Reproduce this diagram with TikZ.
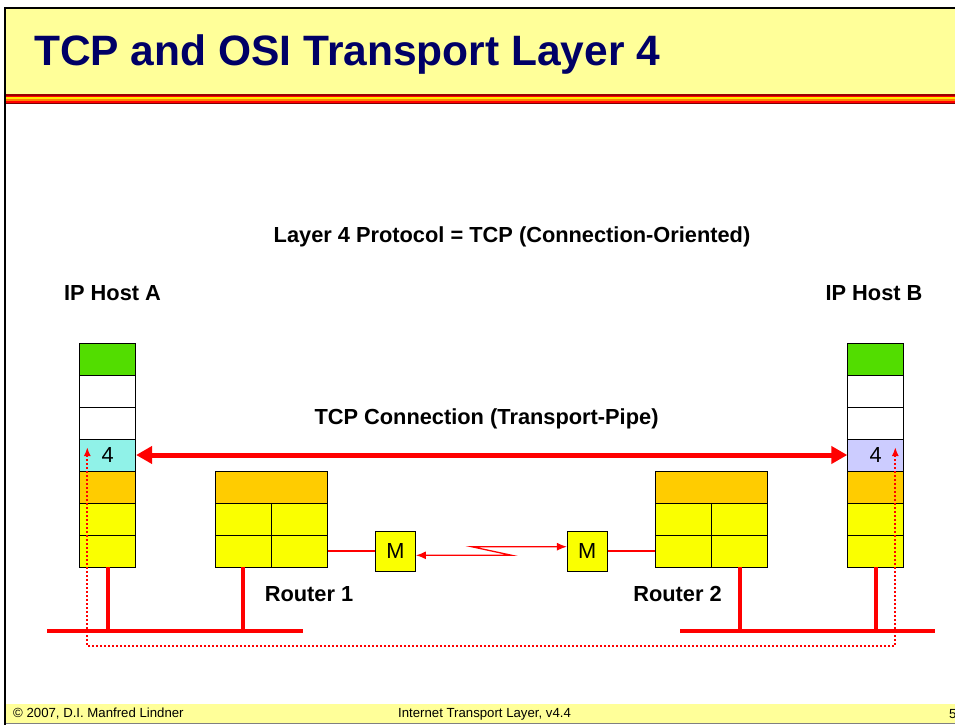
\documentclass[tikz,border=0pt]{standalone}
\usepackage{fontspec}
\setmainfont{Liberation Sans}
\usetikzlibrary{arrows.meta}

\definecolor{bandyellow}{RGB}{255,255,153}
\definecolor{titleblue}{RGB}{0,0,102}
\definecolor{appgreen}{RGB}{82,221,0}
\definecolor{tcpcyan}{RGB}{144,242,232}
\definecolor{tcplilac}{RGB}{204,204,255}
\definecolor{netorange}{RGB}{255,204,0}
\definecolor{linkyellow}{RGB}{250,255,0}

\begin{document}
\begin{tikzpicture}[x=1pt, y=-1pt,
    cell/.style={draw, line width=0.8pt, inner sep=0pt, minimum width=56pt, minimum height=32pt},
    wide/.style={cell, minimum width=112pt},
    modem/.style={draw, line width=0.8pt, fill=linkyellow, inner sep=0pt, minimum size=40pt, font=\fontsize{21.8}{26}\selectfont},
    lbl/.style={inner sep=0pt, anchor=base, font=\fontsize{21.8}{26}\selectfont\bfseries},
    wire/.style={red, line width=4pt},
    foot/.style={inner sep=0pt, anchor=base west, font=\fontsize{13.2}{15}\selectfont}]
    \useasboundingbox (0, 0) rectangle (955, 725);

    % title and footer bands
    \fill[bandyellow] (6, 9) rectangle (955, 94);
    \fill[black] (5, 7) rectangle (955, 9.5);
    \fill[red!60!black] (6, 94) rectangle (955, 95.5);
    \fill[red] (6, 95.5) rectangle (955, 97);
    \fill[yellow!90!orange] (6, 97) rectangle (955, 99);
    \fill[orange] (6, 99) rectangle (955, 101);
    \fill[red] (6, 101) rectangle (955, 102.5);
    \fill[red!50!black] (6, 102.5) rectangle (955, 104);
    \fill[bandyellow] (6, 704) rectangle (955, 723);
    \draw[gray, line width=1pt] (6, 723.5) -- (955, 723.5);
    \fill[black] (3.5, 7) rectangle (6, 725);

    \node[inner sep=0pt, anchor=base west, text=titleblue,
          font=\fontsize{42.5}{50}\selectfont\bfseries] (title) at (34, 66) {TCP and OSI Transport Layer 4};
    \node[foot] (copy) at (13, 717) {© 2007, D.I. Manfred Lindner};
    \node[foot] (course) at (398, 717) {Internet Transport Layer, v4.4};
    \node[foot] (page) at (949, 718) {5};

    % labels
    \node[lbl] (proto) at (512, 242.7) {Layer 4 Protocol = TCP (Connection-Oriented)};
    \node[lbl] (hosta) at (112.5, 300.7) {IP Host A};
    \node[lbl] (hostb) at (874, 300.7) {IP Host B};
    \node[lbl] (pipe) at (486.5, 424.5) {TCP Connection (Transport-Pipe)};
    \node[lbl] (rone) at (309, 601.7) {Router 1};
    \node[lbl] (rtwo) at (677.5, 601.7) {Router 2};

    % host A stack
    \node[cell, fill=appgreen] (a1) at (107.7, 359) {};
    \node[cell, fill=white] (a2) at (107.7, 391) {};
    \node[cell, fill=white] (a3) at (107.7, 423) {};
    \node[cell, fill=tcpcyan, font=\fontsize{21.8}{26}\selectfont] (a4) at (107.7, 455) {4};
    \node[cell, fill=netorange] (a5) at (107.7, 487) {};
    \node[cell, fill=linkyellow] (a6) at (107.7, 519) {};
    \node[cell, fill=linkyellow] (a7) at (107.7, 551) {};

    % host B stack
    \node[cell, fill=appgreen] (b1) at (875.7, 359) {};
    \node[cell, fill=white] (b2) at (875.7, 391) {};
    \node[cell, fill=white] (b3) at (875.7, 423) {};
    \node[cell, fill=tcplilac, font=\fontsize{21.8}{26}\selectfont] (b4) at (875.7, 455) {4};
    \node[cell, fill=netorange] (b5) at (875.7, 487) {};
    \node[cell, fill=linkyellow] (b6) at (875.7, 519) {};
    \node[cell, fill=linkyellow] (b7) at (875.7, 551) {};

    % router 1
    \node[wide, fill=netorange] (r1n) at (271.3, 487) {};
    \node[cell, fill=linkyellow] (r1a) at (243.3, 519) {};
    \node[cell, fill=linkyellow] (r1b) at (299.3, 519) {};
    \node[cell, fill=linkyellow] (r1c) at (243.3, 551) {};
    \node[cell, fill=linkyellow] (r1d) at (299.3, 551) {};

    % router 2
    \node[wide, fill=netorange] (r2n) at (711.7, 487) {};
    \node[cell, fill=linkyellow] (r2a) at (683.7, 519) {};
    \node[cell, fill=linkyellow] (r2b) at (739.7, 519) {};
    \node[cell, fill=linkyellow] (r2c) at (683.7, 551) {};
    \node[cell, fill=linkyellow] (r2d) at (739.7, 551) {};

    \node[modem] (m1) at (395.5, 551) {M};
    \node[modem] (m2) at (587.3, 551) {M};

    % LANs
    \coordinate (lanal) at (47, 631);
    \coordinate (lanar) at (303, 631);
    \coordinate (lanbl) at (680, 631);
    \coordinate (lanbr) at (935, 631);
    \draw[wire] (lanal) -- (lanar);
    \draw[wire] (lanbl) -- (lanbr);
    \draw[wire] (a7.south) -- (a7.south |- lanal);
    \draw[wire] (r1c.south) -- (r1c.south |- lanal);
    \draw[wire] (r2d.south) -- (r2d.south |- lanbl);
    \draw[wire] (b7.south) -- (b7.south |- lanbl);

    % WAN link
    \draw[red, line width=1.3pt] (r1d.east) -- (m1.west);
    \draw[red, line width=1.3pt] (m2.east) -- (r2c.west);
    \coordinate (zlo) at (511.7, 555.3);
    \coordinate (zhi) at (471.7, 546.7);
    \draw[red, line width=1.3pt, {Latex[length=10pt,width=8pt]}-{Latex[length=10pt,width=8pt]}]
        (m1.east |- zlo) -- (zlo) -- (zhi) -- (m2.west |- zhi);

    % transport pipe
    \draw[red, line width=5pt, {Triangle[length=16pt,width=17pt]}-{Triangle[length=16pt,width=17pt]}]
        (a4.east) -- (b4.west);

    % end to end path
    \coordinate (pa) at (87.3, 447);
    \coordinate (pb) at (895.3, 447);
    \coordinate (pbot) at (0, 646);
    \draw[red, line width=2pt, dash pattern=on 2pt off 2pt, {Latex[length=9pt,width=7pt]}-{Latex[length=9pt,width=7pt]}]
        (pa) -- (pa |- pbot) -- (pb |- pbot) -- (pb);
\end{tikzpicture}
\end{document}
